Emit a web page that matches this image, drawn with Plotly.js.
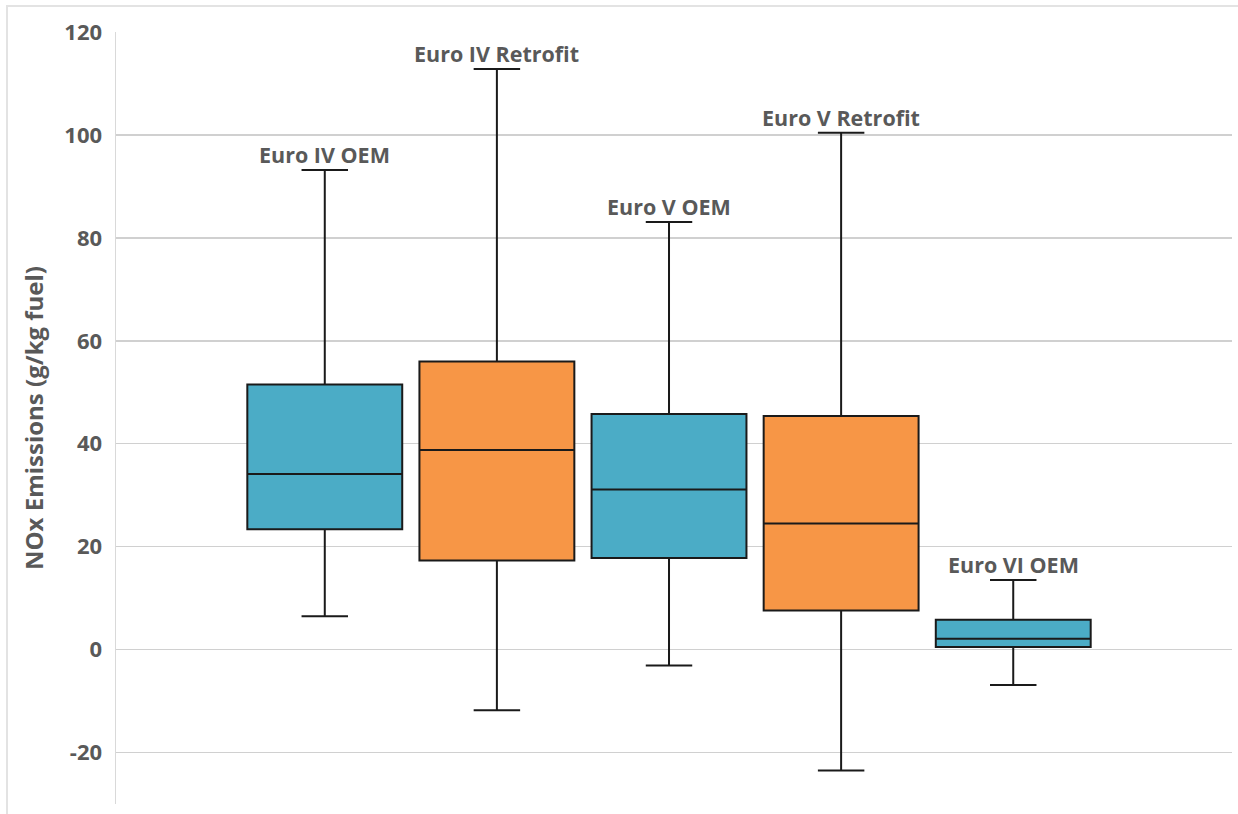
<!DOCTYPE html>
<html>
<head>
<meta charset="utf-8">
<script src="https://cdn.plot.ly/plotly-3.0.1.min.js"></script>
<style>
  html, body { margin: 0; padding: 0; background: #fff; }
  #frame { position: absolute; left: 6px; top: 5px; width: 1240px; height: 820px;
           border-left: 2px solid #e3e3e3; border-top: 2px solid #e3e3e3; box-sizing: border-box; }
  #chart { position: absolute; left: 0; top: 0; width: 1238px; height: 814px; }
</style>
</head>
<body>
<div id="frame"></div>
<div id="chart"></div>
<script>
// Data (NOx emissions, g/kg fuel)
const categories = ["Euro IV OEM", "Euro IV Retrofit", "Euro V OEM", "Euro V Retrofit", "Euro VI OEM"];
const lowerWhisker = [6.5, -11.8, -3.1, -23.5, -6.9];
const q1Values     = [23.4, 17.3, 17.8, 7.6, 0.5];
const medianValues = [34.1, 38.8, 31.1, 24.5, 2.1];
const q3Values     = [51.5, 56.0, 45.8, 45.4, 5.8];
const upperWhisker = [93.2, 112.8, 83.1, 100.4, 13.5];
const boxColors    = ["#4BACC6", "#F79646", "#4BACC6", "#F79646", "#4BACC6"];
const yTicks = [-20, 0, 20, 40, 60, 80, 100, 120];

const traces = categories.map((name, i) => ({
  type: 'box',
  name: name,
  x: [i],
  q1: [q1Values[i]],
  median: [medianValues[i]],
  q3: [q3Values[i]],
  lowerfence: [lowerWhisker[i]],
  upperfence: [upperWhisker[i]],
  width: 0.9,
  whiskerwidth: 0.3,
  fillcolor: boxColors[i],
  line: { color: '#1a1a1a', width: 2 },
  hoverinfo: 'skip',
  showlegend: false
}));

const annotations = categories.map((name, i) => ({
  x: i, y: upperWhisker[i], xref: 'x', yref: 'y',
  text: name, showarrow: false,
  yanchor: 'bottom', yshift: -1,
  font: { family: 'Open Sans, sans-serif', size: 21.5, color: '#595959', weight: 'bold' }
}));

const layout = {
  width: 1238, height: 814,
  margin: { l: 116, r: 6, t: 32, b: 10 },
  paper_bgcolor: 'rgba(0,0,0,0)',
  plot_bgcolor: '#ffffff',
  font: { family: 'Open Sans, sans-serif', color: '#595959' },
  showlegend: false,
  xaxis: {
    type: 'linear',
    range: [-1.213, 5.271],
    showticklabels: false, showgrid: false, zeroline: false, showline: false,
    fixedrange: true
  },
  yaxis: {
    range: [-30, 120],
    tickvals: yTicks,
    ticktext: yTicks.map(String),
    tickfont: { family: 'Open Sans, sans-serif', size: 22, color: '#595959', weight: 'bold' },
    ticklabelstandoff: 8,
    showgrid: true, gridcolor: '#d0d0d0', gridwidth: 1.5,
    zeroline: false,
    showline: true, linecolor: '#d9d9d9', linewidth: 1.5,
    ticks: '',
    title: {
      text: 'NOx Emissions (g/kg fuel)',
      font: { family: 'Open Sans, sans-serif', size: 24, color: '#595959', weight: 'bold' },
      standoff: 14
    },
    automargin: false
  },
  annotations: annotations
};

Plotly.newPlot('chart', traces, layout, { displayModeBar: false, staticPlot: true });
</script>
</body>
</html>
